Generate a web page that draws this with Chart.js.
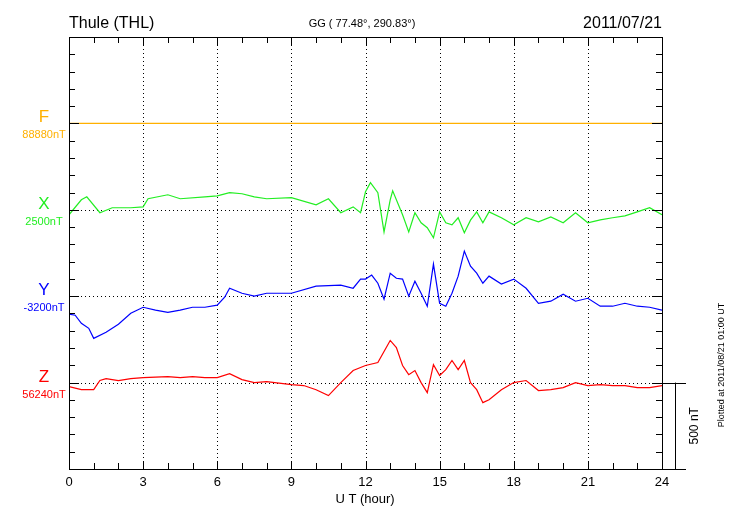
<!DOCTYPE html>
<html><head><meta charset="utf-8">
<script src="https://cdn.jsdelivr.net/npm/chart.js@4"></script>
<style>html,body{margin:0;padding:0;background:#fff}#c{display:block}</style>
</head><body>
<div style="width:730px;height:520px"><canvas id="c" width="730" height="520"></canvas></div>
<script>
const xTickLabels=["0","3","6","9","12","15","18","21","24"];
const componentNames=["F","X","Y","Z"];
const baselineLabels=["88880nT","2500nT","-3200nT","56240nT"];
const baselines=[2000,1500,1000,500];
const fTimes=[0,24];
const fVals=[0,0];
const xTimes=[0,0.5,0.72,1.25,1.75,2.5,3,3.2,4,4.5,5.5,6,6.5,7,7.5,8,9,10,10.5,11,11.5,11.8,12,12.2,12.5,12.75,13,13.1,13.5,13.75,14,14.25,14.5,14.75,15,15.25,15.5,15.75,16,16.25,16.5,16.75,17,17.5,18,18.5,19,19.5,20,20.5,21,21.5,22,22.5,23,23.5,24];
const xVals=[-29,58,75,-17,12,12,17,64,87,64,75,81,99,93,75,64,70,29,64,-17,17,-17,104,157,99,-128,58,110,-29,-128,-17,-75,-104,-162,-12,-75,-87,-46,-133,-60,-12,-75,-12,-46,-87,-46,-70,-41,-75,-17,-75,-58,-46,-35,-12,12,-29];
const yTimes=[0,0.25,0.5,0.8,1,1.5,2,2.5,3,3.5,4,4.5,5,5.5,6,6.3,6.5,7,7.5,8,9,10,11,11.5,11.8,12,12.25,12.5,12.75,13,13.25,13.5,13.75,14,14.25,14.5,14.75,15,15.25,15.5,15.75,16,16.25,16.5,16.75,17,17.5,18,18.5,19,19.5,20,20.5,21,21.5,22,22.5,23,23.5,24];
const yVals=[-104,-110,-157,-186,-244,-209,-162,-99,-64,-81,-93,-81,-64,-64,-52,-6,46,17,0,17,17,58,64,46,99,99,122,75,-17,133,104,99,0,87,17,-58,186,-41,-58,17,116,261,174,133,75,116,70,99,46,-41,-29,12,-29,-12,-58,-58,-41,-58,-64,-81];
const zTimes=[0,0.5,1,1.25,1.5,2,2.5,3,4,4.5,5,5.5,6,6.5,7,7.5,8,9,9.5,10,10.5,11,11.5,12,12.5,13,13.25,13.5,13.75,14,14.25,14.5,14.75,15,15.25,15.5,15.75,16,16.25,16.5,16.75,17,17.5,18,18.5,19,19.5,20,20.5,21,21.5,22,22.5,23,23.5,24];
const zVals=[-23,-41,-41,12,23,12,23,29,35,29,35,29,29,52,17,0,6,-12,-17,-41,-75,0,70,99,116,244,203,99,46,70,0,-58,104,41,75,128,75,128,0,-41,-116,-99,-41,0,12,-46,-41,-29,0,-17,-12,-17,-17,-29,-29,-17];

const colors=["#ffb000","#22ee22","#0000ff","#ff0000"];
function pts(t,v,b){return t.map((x,i)=>({x:x,y:b+v[i]}));}
const series=[[fTimes,fVals],[xTimes,xVals],[yTimes,yVals],[zTimes,zVals]];
const FONT="'Liberation Sans', Arial, sans-serif";

const deco={id:'deco',
 beforeDatasetsDraw(ch){
  const c=ch.ctx,xs=ch.scales.x,ys=ch.scales.y,a=ch.chartArea;
  c.save();c.strokeStyle='#000';c.lineWidth=1;c.setLineDash([1,3]);
  for(let h=3;h<24;h+=3){const px=Math.round(xs.getPixelForValue(h))+0.5;c.beginPath();c.moveTo(px,a.top);c.lineTo(px,a.bottom);c.stroke();}
  baselines.forEach(b=>{const py=Math.round(ys.getPixelForValue(b))+0.5;c.beginPath();c.moveTo(a.left,py);c.lineTo(a.right,py);c.stroke();});
  c.restore();
 },
 afterDraw(ch){
  const c=ch.ctx,xs=ch.scales.x,ys=ch.scales.y,a=ch.chartArea;
  c.save();c.strokeStyle='#000';c.lineWidth=1;c.setLineDash([]);
  c.strokeRect(Math.round(a.left)+0.5,Math.round(a.top)+0.5,Math.round(a.right-a.left),Math.round(a.bottom-a.top));
  c.beginPath();
  for(let h=1;h<24;h++){const px=Math.round(xs.getPixelForValue(h))+0.5;const L=(h%3===0)?8:6;
    c.moveTo(px,a.bottom);c.lineTo(px,a.bottom-L);c.moveTo(px,a.top);c.lineTo(px,a.top+L);}
  for(let v=100;v<2500;v+=100){const py=Math.round(ys.getPixelForValue(v))+0.5;const L=(v%500===0)?10:6;
    c.moveTo(a.left,py);c.lineTo(a.left+L,py);c.moveTo(a.right,py);c.lineTo(a.right-L,py);}
  c.stroke();
  // scale bar
  const p500=ys.getPixelForValue(500),p0=ys.getPixelForValue(0);
  c.beginPath();c.moveTo(a.right,Math.round(p500)+0.5);c.lineTo(a.right+24,Math.round(p500)+0.5);
  c.moveTo(a.right+13.5,p500);c.lineTo(a.right+13.5,p0);
  c.moveTo(a.right,Math.round(p0)+0.5);c.lineTo(a.right+24,Math.round(p0)+0.5);c.stroke();
  c.fillStyle='#000';
  c.save();c.translate(a.right+33,(p500+p0)/2);c.rotate(-Math.PI/2);c.font='12px '+FONT;c.textAlign='center';c.textBaseline='middle';c.fillText('500 nT',0,0);c.restore();
  c.save();c.translate(722,365);c.rotate(-Math.PI/2);c.font='9px '+FONT;c.textAlign='center';c.textBaseline='middle';c.fillText('Plotted at 2011/08/21 01:00 UT',0,0);c.restore();
  // titles
  c.textBaseline='alphabetic';
  c.font='16px '+FONT;c.textAlign='left';c.fillText('Thule (THL)',69,28);
  c.textAlign='right';c.fillText('2011/07/21',662,28);
  c.font='11px '+FONT;c.textAlign='center';c.fillText('GG ( 77.48°, 290.83°)',362,27);
  // x labels
  c.font='13px '+FONT;
  xTickLabels.forEach(l=>{c.fillText(l,xs.getPixelForValue(+l),486);});
  c.fillText('U T (hour)',365,503);
  // component labels
  componentNames.forEach((n,i)=>{const py=ys.getPixelForValue(baselines[i]);c.fillStyle=colors[i];
    c.font='17px '+FONT;c.fillText(n,44,py-1);c.font='11px '+FONT;c.fillText(baselineLabels[i],44,py+15);});
  c.restore();
 }};

new Chart(document.getElementById('c'),{
 type:'line',
 data:{datasets:series.map((s,i)=>({data:pts(s[0],s[1],baselines[i]),borderColor:colors[i],borderWidth:1.2,pointRadius:0,tension:0,fill:false}))},
 options:{responsive:false,animation:false,
  layout:{padding:{top:37,right:68,left:0,bottom:0}},
  plugins:{legend:{display:false},tooltip:{enabled:false}},
  scales:{
   x:{type:'linear',min:0,max:24,grid:{display:false},border:{display:false},ticks:{display:false},afterFit(s){s.height=51;}},
   y:{min:0,max:2500,grid:{display:false},border:{display:false},ticks:{display:false},afterFit(s){s.width=69;}}
  }},
 plugins:[deco]});
</script>
</body></html>
